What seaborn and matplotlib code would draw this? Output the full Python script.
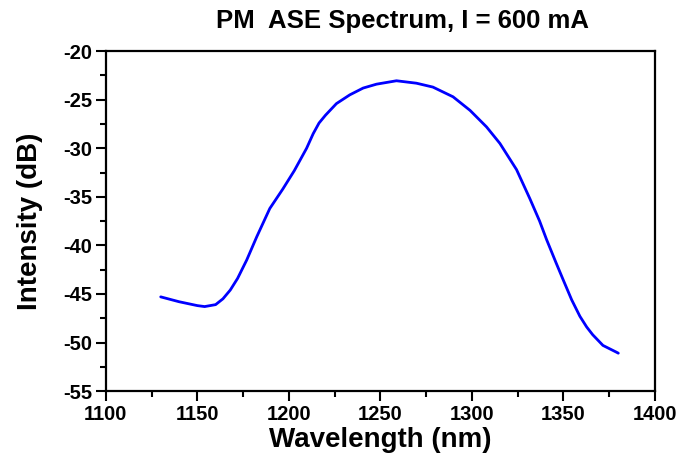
import pandas as pd
import seaborn as sns
import matplotlib.pyplot as plt
from matplotlib.ticker import MultipleLocator

# ASE spectrum
wavelength = [1130, 1140, 1150, 1154, 1160, 1164, 1168, 1172, 1177, 1182.5,
              1189.6, 1196.7, 1203, 1209.7, 1213.3, 1216.5, 1220, 1226, 1233.3,
              1240.6, 1247.9, 1258.8, 1269.7, 1278.7, 1289.7, 1299, 1308,
              1315.3, 1324.4, 1331.7, 1337, 1340.8, 1346, 1350, 1354.5,
              1359, 1362.7, 1366, 1371.6, 1379, 1380]
intensity = [-45.3, -45.8, -46.2, -46.3, -46.1, -45.5, -44.6, -43.4, -41.5, -39.1,
             -36.2, -34.2, -32.3, -30.0, -28.5, -27.4, -26.6, -25.4, -24.5,
             -23.8, -23.4, -23.05, -23.3, -23.7, -24.7, -26.1, -27.8,
             -29.5, -32.2, -35.2, -37.5, -39.4, -41.8, -43.6, -45.6,
             -47.3, -48.4, -49.2, -50.3, -51.0, -51.1]

data = pd.DataFrame({'Wavelength': wavelength, 'Intensity': intensity})

sns.set_style('ticks')
plt.rcParams['font.family'] = ['Liberation Sans', 'DejaVu Sans']
plt.rcParams['font.weight'] = 'bold'
plt.rcParams['axes.unicode_minus'] = False
plt.rcParams['text.color'] = 'black'
plt.rcParams['xtick.color'] = 'black'
plt.rcParams['ytick.color'] = 'black'
plt.rcParams['axes.labelcolor'] = 'black'

fig = plt.figure(figsize=(6.96, 4.65), dpi=100)
ax = fig.add_axes([0.152, 0.159, 0.789, 0.731])

sns.lineplot(data=data, x='Wavelength', y='Intensity', color='#0000ff', linewidth=2, ax=ax)

ax.set_xlim(1100, 1400)
ax.set_ylim(-55, -20)
ax.xaxis.set_major_locator(MultipleLocator(50))
ax.xaxis.set_minor_locator(MultipleLocator(25))
ax.yaxis.set_major_locator(MultipleLocator(5))
ax.yaxis.set_minor_locator(MultipleLocator(2.5))
ax.tick_params(which='major', direction='out', length=7, width=1.5, labelsize=14.5, pad=3)
ax.tick_params(which='minor', direction='out', length=4, width=1.5)
for side in ['top', 'right', 'bottom', 'left']:
    ax.spines[side].set_linewidth(1.6)
    ax.spines[side].set_color('black')

ax.set_xlabel('Wavelength (nm)', fontsize=20, fontweight='bold', labelpad=2)
ax.set_ylabel('Intensity (dB)', fontsize=20, fontweight='bold', labelpad=14)
# title sits a bit right of the axes centre in the original
ax.set_title('PM  ASE Spectrum, I = 600 mA', fontsize=18.5, fontweight='bold', pad=17, x=0.541)

fig.savefig('out.png', dpi=100)
